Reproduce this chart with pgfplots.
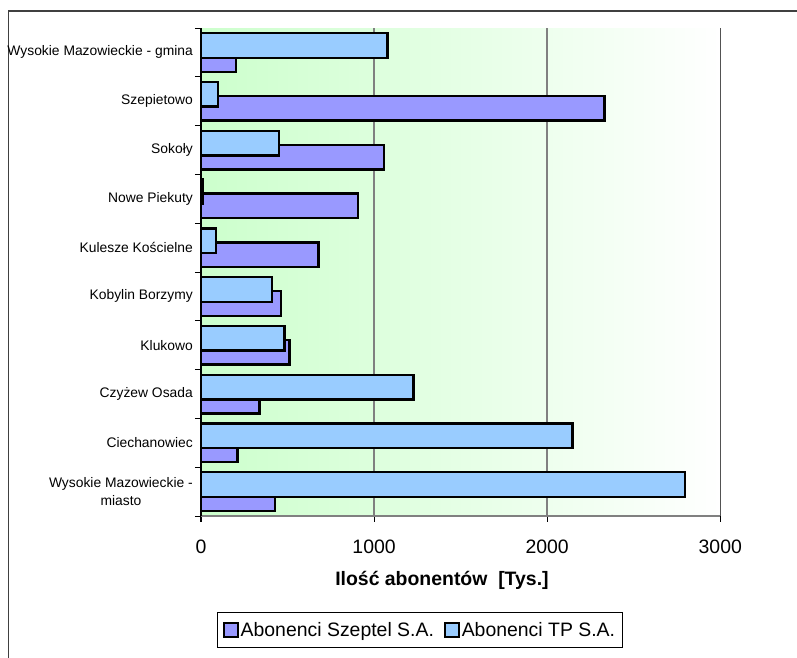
\documentclass[border=0pt]{standalone}
\usepackage{pgfplots}
\pgfplotsset{compat=1.18}
\usepackage{fontspec}
\setmainfont{Liberation Sans}
\definecolor{szeptel}{HTML}{9999FF}
\definecolor{tp}{HTML}{99CCFF}
\definecolor{bggreen}{HTML}{CCFFCC}
\definecolor{gridgray}{HTML}{808080}
\begin{document}
\begin{tikzpicture}
\useasboundingbox (0,0) rectangle (797bp,658bp);
\draw[line width=1.6bp, color=black!75] (8.5bp,0) -- (8.5bp,647bp) -- (797bp,647bp);
\begin{axis}[
  at={(201bp,142bp)}, anchor=south west,
  scale only axis, width=519.3bp, height=488bp,
  xmin=0, xmax=3000, ymin=-0.5, ymax=9.5,
  axis x line*=bottom, axis y line*=left,
  axis line style={-},
  x axis line style={gridgray, line width=1.4bp},
  y axis line style={black, line width=1.4bp},
  axis background/.style={shade, left color=bggreen, middle color=bggreen!65!white, right color=white},
  xtick={0,1000,2000,3000},
  xticklabels={0,1000,2000,3000},
  tick align=outside,
  x tick style={black, line width=1.2bp},
  y tick style={black, line width=1bp},
  major tick length=6bp,
  ytick={-0.5,0.5,...,9.5},
  yticklabels={{Wysokie Mazowieckie -\\miasto},Ciechanowiec,Czyżew Osada,Klukowo,Kobylin Borzymy,Kulesze Kościelne,Nowe Piekuty,Sokoły,Szepietowo,Wysokie Mazowieckie - gmina,{}},
  yticklabel style={align=center, anchor=east, inner sep=0pt, xshift=-2bp, yshift=24.4bp, font=\fontsize{13.9}{18.3}\selectfont},
  xticklabel style={anchor=base, inner sep=0pt, yshift=-31bp, font=\fontsize{19.5}{23}\selectfont},
  xmajorgrids,
  major x grid style={gridgray, line width=1.5bp},
  xlabel={Ilość abonentów\ \ [Tys.]},
  xlabel style={at={(0.464,-0.131)}, anchor=center, font=\bfseries\fontsize{19.5}{23}\selectfont},
  legend columns=2,
  legend style={at={(0.4217,-0.2336)}, anchor=center, draw=black, line width=0.9bp,
    font=\fontsize{19.5}{23}\selectfont, inner xsep=5bp, inner ysep=7.5bp,
    /tikz/every even column/.append style={column sep=8bp}},
  legend image code/.code={\draw[#1, draw=black, line width=1.8bp] (0bp,-7bp) rectangle (14bp,7bp);},
]
\addplot[xbar, bar width=24.6bp, bar shift=-7bp, fill=szeptel, draw=black, line width=2.4bp]
  coordinates {(427,0) (211,1) (338,2) (511,3) (461,4) (678,5) (906,6) (1056,7) (2331,8) (202,9)};
\addlegendentry{Abonenci Szeptel S.A.}
\addplot[xbar, bar width=24.6bp, bar shift=7bp, fill=tp, draw=black, line width=2.4bp]
  coordinates {(2797,0) (2147,1) (1228,2) (482,3) (410,4) (88,5) (12,6) (451,7) (98,8) (1078,9)};
\addlegendentry{Abonenci TP S.A.}
\draw[black, line width=1.5bp] (rel axis cs:1,0) -- (rel axis cs:1,1);
\end{axis}
\end{tikzpicture}
\end{document}
